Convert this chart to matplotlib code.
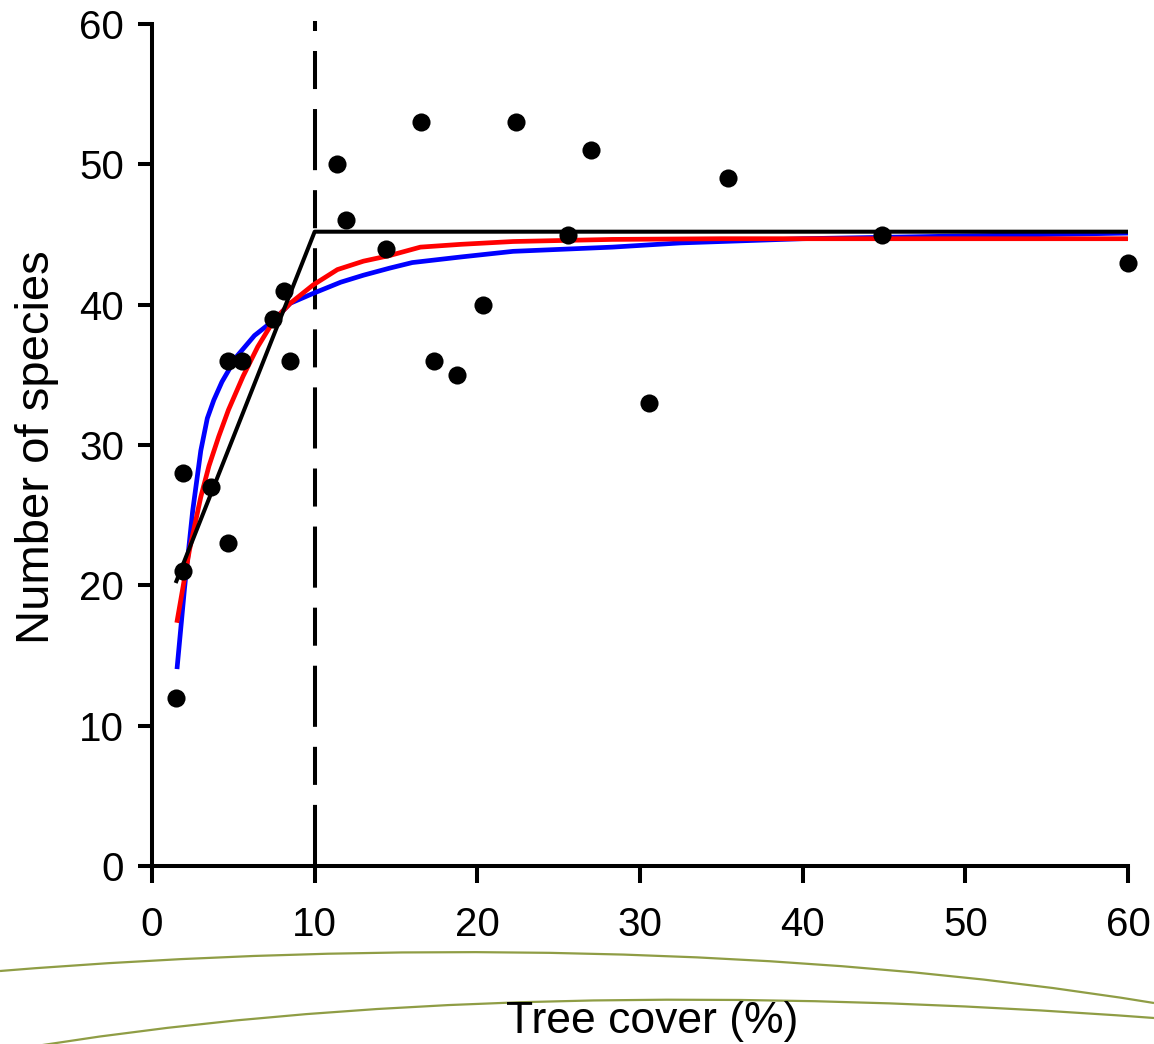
import numpy as np
import matplotlib
matplotlib.use('Agg')
import matplotlib.pyplot as plt
from matplotlib.path import Path
from matplotlib.patches import PathPatch

plt.rcParams['font.family'] = ['Liberation Sans', 'DejaVu Sans']
plt.rcParams['lines.scale_dashes'] = False

# observed sites: tree cover (%) vs number of species
cover = [1.5, 1.9, 1.9, 3.6, 4.7, 4.7, 5.55, 7.45, 8.1, 8.5, 11.35, 11.9, 14.4,
         16.55, 17.35, 18.75, 20.35, 22.4, 25.6, 27.0, 30.55, 35.4, 44.9, 60.0]
species = [12, 28, 21, 27, 23, 36, 36, 39, 41, 36, 50, 46, 44,
           53, 36, 35, 40, 53, 45, 51, 33, 49, 45, 43]

# broken-stick fit (black)
stick_x = [1.5, 10.0, 60.0]
stick_y = [20.3, 45.2, 45.2]

# red fitted curve
red_x = [1.55, 2.3, 3.0, 3.5, 4.1, 4.7, 5.6, 6.5, 7.5, 8.5, 9.9, 11.4, 13.0, 14.6, 16.5, 19.0,
         22.2, 28.3, 35.0, 45.0, 60.0]
red_y = [17.5, 22.5, 26.3, 28.5, 30.6, 32.5, 34.9, 37.0, 38.9, 40.1, 41.4, 42.5, 43.1, 43.5, 44.1, 44.3,
         44.5, 44.65, 44.7, 44.7, 44.7]

# blue fitted curve
blue_x = [1.55, 2.0, 2.5, 3.0, 3.4, 3.8, 4.3, 5.2, 6.3, 7.5, 8.5, 9.9, 11.6, 13.0, 14.6, 16.0,
          19.0, 22.2, 28.3, 32.5, 40.0, 45.0, 60.0]
blue_y = [14.2, 19.8, 25.3, 29.6, 31.9, 33.2, 34.5, 36.3, 37.8, 38.9, 40.1, 40.8, 41.6, 42.1, 42.6, 43.0,
          43.4, 43.8, 44.1, 44.4, 44.7, 44.8, 45.1]

threshold = 10.0

W, H = 1154, 1044
fig = plt.figure(figsize=(W / 100, H / 100), dpi=100)
fig.patch.set_facecolor('white')

# decorative slide swooshes, cubic bezier in figure pixels
swooshes = [
    [(0, 971), (380, 940), (800, 945), (1154, 1003)],
    [(0, 1052), (350, 992), (750, 988), (1154, 1018)],
]
codes = [Path.MOVETO, Path.CURVE4, Path.CURVE4, Path.CURVE4]
for sw in swooshes:
    verts = [(px / W, 1 - py / H) for px, py in sw]
    fig.add_artist(PathPatch(Path(verts, codes), transform=fig.transFigure,
                             fill=False, edgecolor='#8f9d45', lw=1.6, zorder=0))

ax = fig.add_axes([152 / W, 1 - 866 / H, (1128 - 152) / W, (866 - 24) / H])
ax.set_facecolor('none')

ax.plot(blue_x, blue_y, color='#0000ff', lw=3.4, zorder=3, solid_joinstyle='round')
ax.plot(red_x, red_y, color='#ff0000', lw=3.4, zorder=3, solid_joinstyle='round')
ax.plot(stick_x, stick_y, color='black', lw=2.9, zorder=4)
ax.plot([threshold, threshold], [0, 60.2], color='black', lw=2.9,
        dashes=(44, 14.4, 27.4, 14.4), clip_on=False, zorder=2)
ax.scatter(cover, species, s=170, color='black', zorder=5, clip_on=False, linewidths=0)

ax.set_xlim(0, 60)
ax.set_ylim(0, 60)
ax.set_xticks(np.arange(0, 61, 10))
ax.set_yticks(np.arange(0, 61, 10))

for side in ('top', 'right'):
    ax.spines[side].set_visible(False)
for side in ('left', 'bottom'):
    ax.spines[side].set_linewidth(2.9)

ax.tick_params(axis='x', direction='out', length=12, width=2.9, pad=17, labelsize=29)
ax.tick_params(axis='y', direction='out', length=10, width=2.9, pad=10, labelsize=29)

ax.set_xlabel('Tree cover (%)', fontsize=32)
ax.xaxis.set_label_coords(652 / W, 1 - 1033 / H, transform=fig.transFigure)
ax.xaxis.label.set_va('baseline')

ax.set_ylabel('Number of species', fontsize=34)
ax.yaxis.set_label_coords(37 / W, 1 - 447 / H, transform=fig.transFigure)
ax.yaxis.label.set_va('center')
ax.yaxis.label.set_ha('center')

fig.savefig('out.png', dpi=100, facecolor='white')
